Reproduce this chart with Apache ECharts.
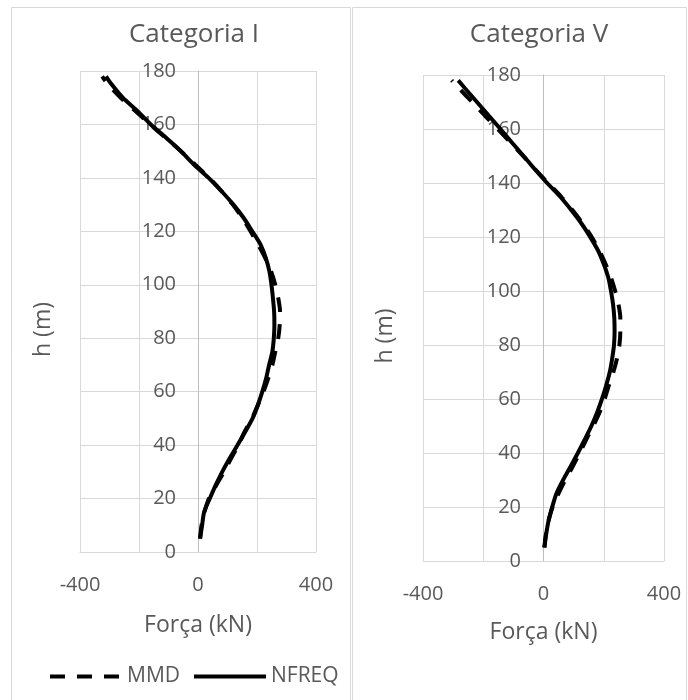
<!DOCTYPE html>
<html>
<head>
<meta charset="utf-8">
<script src="https://cdn.jsdelivr.net/npm/echarts@6/dist/echarts.min.js"></script>
<style>
html,body{margin:0;padding:0;background:#fff;}
#chart{width:688px;height:700px;}
</style>
</head>
<body>
<div id="chart"></div>
<script>
const heights = [5,10,15,20,25,30,35,40,45,50,55,60,65,70,75,80,85,90,95,100,105,110,115,120,125,130,135,140,145,150,155,160,165,170,175,178];
const mmdCatI   = [7,12,22,37,62,88,112,137,158,183,203,222,238,252,262,272,277,278,272,262,248,228,204,178,150,118,80,38,-10,-58,-110,-162,-212,-262,-305,-325];
const nfreqCatI = [7,14,21,40,60,82,107,134,160,185,203,218,231,241,252,257,259,258,254,249,242,230,212,184,155,120,80,36,-14,-58,-108,-160,-205,-255,-293,-312];
const mmdCatV   = [3,8,17,30,50,72,97,120,142,165,186,203,217,232,244,252,255,255,249,238,224,206,185,160,130,96,58,15,-27,-68,-110,-152,-195,-237,-280,-305];
const nfreqCatV = [3,9,17,29,43,65,90,114,137,159,178,194,208,220,228,234,236,235,231,224,215,200,181,155,126,92,55,12,-28,-66,-105,-143,-182,-221,-260,-283];
const xTickLabels = [-400, 0, 400];
const panelTitles = ['Categoria I', 'Categoria V'];
const seriesNames = ['MMD', 'NFREQ'];

const FONT = '"Open Sans"';
const TXT = '#595959';

function pairs(xs){ return xs.map((v,i)=>[v, heights[i]]); }

function xAxisDef(idx, gap){
  return {
    gridIndex: idx, type:'value', min:-400, max:400, interval:200,
    name:'Força (kN)', nameLocation:'middle', nameGap:gap,
    nameTextStyle:{color:TXT, fontFamily:FONT, fontSize:23},
    axisLine:{show:true, onZero:false, lineStyle:{color:'#d9d9d9', width:1}},
    axisTick:{show:false},
    splitLine:{show:true, lineStyle:{color:'#d9d9d9', width:1}},
    axisLabel:{color:TXT, fontFamily:FONT, fontSize:20, margin:23,
      formatter: v => xTickLabels.indexOf(v) >= 0 ? String(v) : ''}
  };
}
function yAxisDef(idx, off, gap){
  return {
    gridIndex: idx, type:'value', min:0, max:180, interval:20,
    position:'left', offset:off,
    name:'h (m)', nameLocation:'middle', nameGap:gap,
    nameTextStyle:{color:TXT, fontFamily:FONT, fontSize:23, padding:[0,36,0,0]},
    axisLine:{show:true, onZero:false, lineStyle:{color:'#bfbfbf', width:1}},
    axisTick:{show:false},
    splitLine:{show:true, lineStyle:{color:'#d9d9d9', width:1}},
    axisLabel:{color:TXT, fontFamily:FONT, fontSize:20, margin:22}
  };
}
function lineSeries(name, data, idx, dashed){
  return {
    name, type:'line', xAxisIndex:idx, yAxisIndex:idx,
    data: pairs(data), symbol:'none', smooth:0.3, z:5,
    lineStyle:{color:'#000', width:4, type: dashed ? [15,12] : 'solid'},
    itemStyle:{color:'#000'}
  };
}

const chart = echarts.init(document.getElementById('chart'), null, {renderer:'canvas'});
chart.setOption({
  animation:false,
  backgroundColor:'#fff',
  textStyle:{fontFamily:FONT},
  title:[
    {text:panelTitles[0], left:189, top:17, textAlign:'center',
     textStyle:{color:TXT, fontFamily:FONT, fontSize:26, fontWeight:'normal'}},
    {text:panelTitles[1], left:534, top:17, textAlign:'center',
     textStyle:{color:TXT, fontFamily:FONT, fontSize:26, fontWeight:'normal'}}
  ],
  legend:{
    data:seriesNames, left:48, top:666, padding:0, itemWidth:72, itemHeight:14, itemGap:12,
    itemStyle:{opacity:0},
    lineStyle:{width:4},
    textStyle:{color:TXT, fontFamily:FONT, fontSize:21}
  },
  grid:[
    {left:80, right:372, top:71, bottom:148, containLabel:false, outerBoundsMode:'none'},
    {left:423, right:24, top:75, bottom:139, containLabel:false, outerBoundsMode:'none'}
  ],
  xAxis:[xAxisDef(0, 62), xAxisDef(1, 60)],
  yAxis:[yAxisDef(0, -118, 143), yAxisDef(1, -120, 146)],
  graphic:[
    {type:'rect', shape:{x:11.5, y:7.5, width:339, height:700}, style:{fill:'none', stroke:'#d9d9d9', lineWidth:1}, silent:true},
    {type:'rect', shape:{x:352.5, y:7.5, width:334, height:700}, style:{fill:'none', stroke:'#d9d9d9', lineWidth:1}, silent:true}
  ],
  series:[
    lineSeries(seriesNames[0], mmdCatI, 0, true),
    lineSeries(seriesNames[1], nfreqCatI, 0, false),
    lineSeries(seriesNames[0], mmdCatV, 1, true),
    lineSeries(seriesNames[1], nfreqCatV, 1, false)
  ]
});
</script>
</body>
</html>
